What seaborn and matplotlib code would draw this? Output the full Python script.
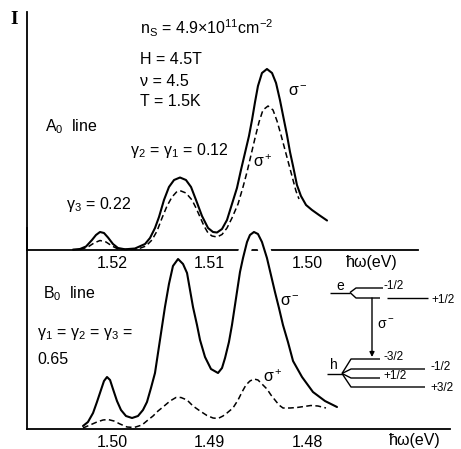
import matplotlib
matplotlib.use("Agg")
import matplotlib.pyplot as plt
import matplotlib.patheffects as pe
import seaborn as sns
import pandas as pd

# ---------------- data ----------------
# A0 line (upper panel), photon energy in eV, intensity in arb. units
a_minus_E = [1.52399, 1.52328, 1.52266, 1.52205, 1.52164, 1.52123, 1.52082, 1.52041,
             1.51990, 1.51939, 1.51867, 1.51765, 1.51662, 1.51611, 1.51560, 1.51519,
             1.51468, 1.51417, 1.51365, 1.51304, 1.51243, 1.51191, 1.51140, 1.51079,
             1.51017, 1.50966, 1.50925, 1.50874, 1.50823, 1.50772, 1.50721, 1.50680,
             1.50639, 1.50598, 1.50567, 1.50536, 1.50506, 1.50465, 1.50414, 1.50362,
             1.50321, 1.50281, 1.50240, 1.50209, 1.50178, 1.50147, 1.50107, 1.50066,
             1.50014, 1.49953, 1.49881, 1.49799]
a_minus_I = [0.04, 0.10, 0.35, 1.00, 1.50, 1.80, 1.70, 1.25,
             0.60, 0.20, 0.07, 0.15, 0.60, 1.20, 2.20, 3.30,
             5.00, 6.30, 7.00, 7.25, 7.00, 6.30, 5.00, 3.40,
             2.20, 1.80, 1.75, 2.10, 3.00, 4.60, 6.20, 8.00,
             9.70, 11.40, 13.00, 14.80, 16.40, 17.70, 18.10, 17.70,
             16.70, 15.00, 13.00, 11.50, 9.80, 8.40, 6.50, 5.40,
             4.50, 4.00, 3.50, 2.95]
a_plus_E = [1.52328, 1.52246, 1.52184, 1.52123, 1.52061, 1.52000, 1.51939, 1.51836,
            1.51734, 1.51652, 1.51591, 1.51539, 1.51488, 1.51437, 1.51386, 1.51335,
            1.51294, 1.51243, 1.51181, 1.51140, 1.51099, 1.51058, 1.51017, 1.50976,
            1.50925, 1.50874, 1.50823, 1.50772, 1.50710, 1.50659, 1.50618, 1.50577,
            1.50536, 1.50495, 1.50455, 1.50403, 1.50352, 1.50311, 1.50270, 1.50229,
            1.50188, 1.50147, 1.50117, 1.50086]
a_plus_I = [0.04, 0.30, 0.70, 0.95, 0.80, 0.40, 0.10, 0.05,
            0.10, 0.40, 1.00, 1.90, 3.20, 4.40, 5.30, 5.85,
            5.90, 5.70, 5.00, 4.20, 3.30, 2.40, 1.70, 1.40,
            1.30, 1.55, 2.20, 3.20, 4.60, 6.30, 7.80, 9.50,
            11.20, 12.80, 14.00, 14.40, 14.00, 12.90, 11.50, 10.00,
            8.50, 7.00, 5.90, 5.10]

# B0 line (lower panel)
b_minus_E = [1.50297, 1.50246, 1.50194, 1.50154, 1.50113, 1.50082, 1.50051, 1.50020,
             1.49990, 1.49949, 1.49908, 1.49857, 1.49795, 1.49734, 1.49683, 1.49642,
             1.49601, 1.49560, 1.49509, 1.49458, 1.49417, 1.49376, 1.49324, 1.49273,
             1.49232, 1.49171, 1.49130, 1.49099, 1.49048, 1.48987, 1.48915, 1.48874,
             1.48843, 1.48803, 1.48772, 1.48721, 1.48690, 1.48659, 1.48618, 1.48588,
             1.48547, 1.48506, 1.48465, 1.48414, 1.48373, 1.48332, 1.48291, 1.48250,
             1.48199, 1.48147, 1.48055, 1.47943, 1.47820, 1.47697]
b_minus_I = [0.3, 0.7, 1.6, 2.7, 3.9, 4.8, 5.2, 4.9,
             4.0, 2.8, 1.9, 1.3, 1.1, 1.3, 1.9, 2.7,
             4.1, 5.6, 8.9, 12.2, 14.5, 16.3, 17.0, 16.5,
             15.6, 12.2, 10.4, 8.9, 7.2, 6.0, 5.6, 6.1,
             7.1, 8.7, 10.4, 13.7, 15.7, 17.1, 18.7, 19.4,
             19.7, 19.5, 18.7, 17.1, 15.4, 13.7, 12.1, 10.4,
             8.7, 6.8, 5.2, 3.7, 2.8, 2.2]
b_plus_E = [1.50297, 1.50225, 1.50154, 1.50092, 1.50041, 1.49980, 1.49918, 1.49846,
            1.49775, 1.49693, 1.49632, 1.49580, 1.49529, 1.49478, 1.49406, 1.49345,
            1.49294, 1.49232, 1.49171, 1.49099, 1.49028, 1.48966, 1.48915, 1.48864,
            1.48823, 1.48762, 1.48710, 1.48669, 1.48629, 1.48588, 1.48547, 1.48506,
            1.48465, 1.48414, 1.48373, 1.48332, 1.48291, 1.48250, 1.48178, 1.48107,
            1.48035, 1.47964, 1.47892, 1.47810]
b_plus_I = [0.1, 0.4, 0.7, 0.9, 0.95, 0.8, 0.5, 0.2,
            0.15, 0.4, 0.9, 1.3, 1.8, 2.2, 2.8, 3.15,
            3.15, 2.9, 2.3, 1.8, 1.35, 1.1, 1.05, 1.3,
            1.6, 2.1, 2.9, 3.7, 4.4, 4.8, 5.0, 4.9,
            4.5, 4.0, 3.4, 2.9, 2.4, 2.1, 2.1, 2.15,
            2.25, 2.35, 2.3, 2.1]

top_ticks = [1.52, 1.51, 1.50]
top_ticklabels = ["1.52", "1.51", "1.50"]
bot_ticks = [1.50, 1.49, 1.48]
bot_ticklabels = ["1.50", "1.49", "1.48"]
xlabel = "ħω(eV)"

# ---------------- style ----------------
sns.set_theme(style="white")
plt.rcParams["font.family"] = ["Liberation Sans", "DejaVu Sans"]
plt.rcParams["mathtext.fontset"] = "custom"
plt.rcParams["mathtext.rm"] = "Liberation Sans"
plt.rcParams["mathtext.it"] = "Liberation Sans"
plt.rcParams["mathtext.default"] = "regular"

W, H = 461, 449
fig = plt.figure(figsize=(W / 100, H / 100), dpi=100)
fig.patch.set_facecolor("white")


def px_axes(x0, y0, x1, y1):
    """axes box given by pixel corners (top-left origin)"""
    return fig.add_axes([x0 / W, 1 - y1 / H, (x1 - x0) / W, (y1 - y0) / H])


SOLID_LW = 1.5
DASH_LW = 1.1
DASH = (0, (3.8, 2.2))
FS = 11.5

def style_panel(ax, ticks, labels, ticklen):
    ax.patch.set_alpha(0)
    for s in ("top", "right"):
        ax.spines[s].set_visible(False)
    for s in ("left", "bottom"):
        ax.spines[s].set_color("black")
        ax.spines[s].set_linewidth(1.3)
    ax.set_xticks(ticks)
    ax.set_xticklabels(labels, fontsize=FS)
    ax.set_yticks([])
    ax.tick_params(axis="x", direction="in", length=ticklen, width=1.0,
                   color="black", pad=4, labelcolor="black")
    ax.set_xlabel("")
    ax.set_ylabel("")
    ax.grid(False)


# upper panel (A0 line)
ax1 = px_axes(27, 12, 418, 250)
dfa_m = pd.DataFrame({"E": a_minus_E, "I": a_minus_I})
dfa_p = pd.DataFrame({"E": a_plus_E, "I": a_plus_I})
sns.lineplot(data=dfa_m, x="E", y="I", ax=ax1, color="black", lw=SOLID_LW,
             sort=False, estimator=None)
sns.lineplot(data=dfa_p, x="E", y="I", ax=ax1, color="black", lw=DASH_LW,
             linestyle=DASH, sort=False, estimator=None)
ax1.set_xlim(1.52 + 85 / 9770, 1.52 - 306 / 9770)
ax1.set_ylim(0, 23.8)
style_panel(ax1, top_ticks, top_ticklabels, 5.8)

# lower panel (B0 line)
ax2 = px_axes(27, 228, 450, 429)
dfb_m = pd.DataFrame({"E": b_minus_E, "I": b_minus_I})
dfb_p = pd.DataFrame({"E": b_plus_E, "I": b_plus_I})
sns.lineplot(data=dfb_m, x="E", y="I", ax=ax2, color="black", lw=SOLID_LW,
             sort=False, estimator=None)
ax2.lines[-1].set_path_effects([pe.Stroke(linewidth=9, foreground="white"), pe.Normal()])
sns.lineplot(data=dfb_p, x="E", y="I", ax=ax2, color="black", lw=DASH_LW,
             linestyle=DASH, sort=False, estimator=None)
ax2.set_xlim(1.50 + 85 / 9770, 1.50 - 338 / 9770)
ax2.set_ylim(0, 20.1)
style_panel(ax2, bot_ticks, bot_ticklabels, 7.0)
for ln in ax1.lines + ax2.lines:
    ln.set_clip_on(False)

# overlay in pixel coordinates for labels and the level diagram
ov = fig.add_axes([0, 0, 1, 1])
ov.set_xlim(0, W)
ov.set_ylim(H, 0)
ov.axis("off")
ov.patch.set_alpha(0)

def txt(x, y, s, size=FS, **kw):
    ov.text(x, y, s, fontsize=size, ha=kw.pop("ha", "left"), va=kw.pop("va", "center"),
            color="black", **kw)

txt(10, 19, "I", size=14, family="Liberation Serif", weight="bold")
txt(140, 28, r"n$_S$ = 4.9×10$^{11}$cm$^{-2}$")
txt(140, 59, "H = 4.5T")
txt(140, 81, "ν = 4.5")
txt(140, 102, "T = 1.5K")
txt(45, 127, r"A$_0$  line")
txt(130, 151, r"γ$_2$ = γ$_1$ = 0.12")
txt(66, 205, r"γ$_3$ = 0.22")
txt(288, 91, r"σ$^-$")
txt(253, 162, r"σ$^+$")
txt(43, 294, r"B$_0$  line")
txt(37, 334, r"γ$_1$ = γ$_2$ = γ$_3$ =")
txt(37, 359, "0.65")
txt(280, 301, r"σ$^-$")
txt(263, 377, r"σ$^+$")
txt(346, 262, xlabel)
txt(389, 440, xlabel)

# level diagram
LW = 1.0
def seg(xs, ys):
    ov.plot(xs, ys, color="black", lw=LW, solid_capstyle="butt")

# electron levels
txt(340, 286, "e", size=10, ha="center")
seg([330, 350], [292.5, 292.5])
seg([350, 356, 383], [292.5, 288, 288])
seg([350, 356, 380], [292.5, 298, 298])
seg([387, 428], [298, 298])
txt(383, 286, "-1/2", size=8.5)
txt(431, 300, "+1/2", size=8.5)
ov.annotate("", xy=(372, 357), xytext=(372, 298),
            arrowprops=dict(arrowstyle="-|>", color="black", lw=LW,
                            mutation_scale=7, shrinkA=0, shrinkB=0))
txt(377, 325, r"σ$^-$", size=10)

# hole levels
txt(334, 365, "h", size=10, ha="center")
seg([327, 342], [373.5, 373.5])
for yl, xe in [(359, 380), (369, 425), (378, 380), (387, 425)]:
    seg([342, 351, xe], [373.5, yl, yl])
txt(383, 357, "-3/2", size=8.5)
txt(430, 367, "-1/2", size=8.5)
txt(383, 376, "+1/2", size=8.5)
txt(430, 388, "+3/2", size=8.5)

fig.savefig("out.png", dpi=100, facecolor="white")
